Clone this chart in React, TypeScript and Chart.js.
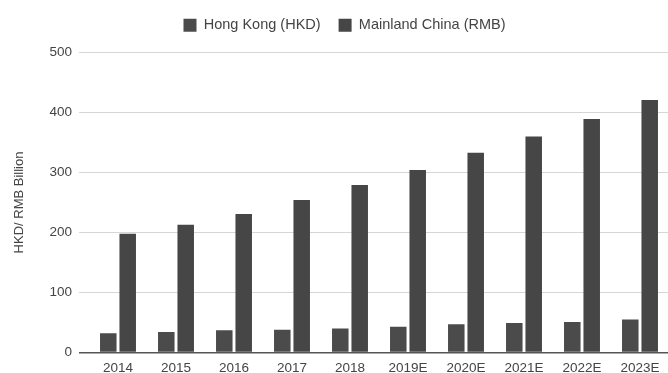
import React, { useEffect, useRef } from "react";
import { Chart, registerables } from "chart.js";

Chart.register(...registerables);

const categories = ["2014", "2015", "2016", "2017", "2018", "2019E", "2020E", "2021E", "2022E", "2023E"];
const hongKong = [32, 34, 37, 38, 40, 43, 47, 49, 51, 55];
const mainland = [198, 213, 231, 254, 279, 304, 333, 360, 389, 421];
const yTicks = [0, 100, 200, 300, 400, 500];

const legendSpacer = {
  id: "legendSpacer",
  beforeInit(chart: any) {
    const legend = chart.legend;
    if (!legend) return;
    const origFit = legend.fit;
    legend.fit = function () {
      origFit.call(this);
      this.height += 10;
    };
  },
  afterLayout(chart: any) {
    const legend = chart.legend;
    if (!legend) return;
    legend.left += 6;
    legend.right += 6;
  },
};

export default function App() {
  const ref = useRef<HTMLCanvasElement | null>(null);

  useEffect(() => {
    if (!ref.current) return;
    const font = "'Liberation Sans', Arial, sans-serif";
    const chart = new Chart(ref.current, {
      type: "bar",
      plugins: [legendSpacer],
      data: {
        labels: categories,
        datasets: [
          {
            label: "Hong Kong (HKD)",
            data: hongKong,
            backgroundColor: "#4b4b4b",
            borderWidth: 0,
            barPercentage: 0.85,
            categoryPercentage: 0.67,
          },
          {
            label: "Mainland China (RMB)",
            data: mainland,
            backgroundColor: "#464646",
            borderWidth: 0,
            barPercentage: 0.85,
            categoryPercentage: 0.67,
          },
        ],
      },
      options: {
        animation: false,
        responsive: false,
        maintainAspectRatio: false,
        layout: { padding: { top: 0, right: 15, left: 0, bottom: 0 } },
        plugins: {
          legend: {
            position: "top",
            labels: {
              boxWidth: 13,
              boxHeight: 13,
              padding: 18,
              color: "#444",
              font: { family: font, size: 14.5 },
            },
          },
          tooltip: { enabled: false },
        },
        scales: {
          x: {
            grid: { display: false, drawTicks: false },
            border: { display: false },
            ticks: {
              color: "#444",
              font: { family: font, size: 13.5 },
              padding: 8,
              maxRotation: 0,
              autoSkip: false,
            },
            afterFit: (scale: any) => {
              scale.height = 20.5;
            },
          },
          y: {
            min: 0,
            max: 500,
            afterBuildTicks: (scale: any) => {
              scale.ticks = yTicks.map((v) => ({ value: v }));
            },
            grid: {
              color: (ctx: any) => (ctx.tick && ctx.tick.value === 0 ? "#555" : "#d6d6d6"),
              lineWidth: (ctx: any) => (ctx.tick && ctx.tick.value === 0 ? 1.5 : 1),
              drawTicks: true,
              tickLength: 10,
            },
            border: { display: false },
            ticks: {
              color: "#444",
              font: { family: font, size: 13.5 },
              padding: 7,
            },
            title: {
              display: true,
              text: "HKD/ RMB Billion",
              color: "#444",
              font: { family: font, size: 13 },
            },
            afterFit: (scale: any) => {
              scale.width = 81;
            },
          },
        },
      },
    });
    return () => chart.destroy();
  }, []);

  return (
    <div style={{ position: "fixed", left: 8, top: 0, width: 676, height: 373 }}>
      <canvas ref={ref} width={676} height={373} style={{ width: 676, height: 373 }} />
    </div>
  );
}
